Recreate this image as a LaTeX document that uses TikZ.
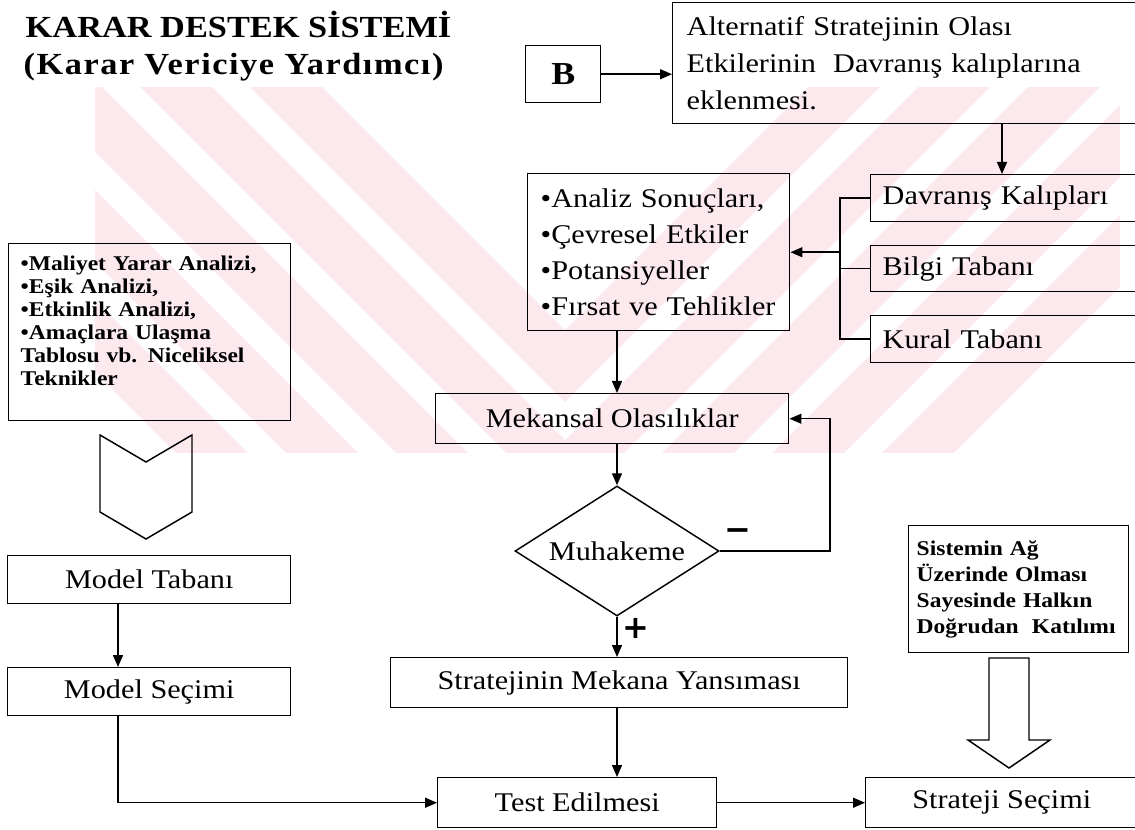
\documentclass[tikz,border=0pt]{standalone}
\usepackage{fontspec}
\setmainfont{Liberation Serif}[FakeStretch=1.12]
\newfontfamily\titlewide{Liberation Serif}[FakeStretch=1.12,LetterSpace=5]
\newfontfamily\signfont{DejaVu Sans}
\usetikzlibrary{shapes.geometric,arrows.meta,calc}
\definecolor{wmpink}{RGB}{252,233,237}

\begin{document}
\begin{tikzpicture}[x=0.75pt,y=-0.75pt,
  line width=1.1pt,
  >={Triangle[length=9pt,width=7.5pt]},
  cbox/.style={draw, inner sep=0pt, anchor=north west,
    font=\fontsize{20.25}{27}\selectfont},
  lbox/.style={draw, inner ysep=0pt, anchor=north west, align=left},
  txt/.style={font=\fontsize{20.25}{27}\selectfont},
  sign/.style={inner sep=0pt, font=\signfont\bfseries\fontsize{24}{24}\selectfont}
]
\useasboundingbox (0,0) rectangle (1135,830);
\clip (0,0) rectangle (1135,830);

% faint background stripes
\begin{scope}
  \clip (95,88) rectangle (1120,452);
  \foreach \c in {330,440,550,660,770} {
    \fill[wmpink] (-35,\c-600) -- (565,\c) -- (1165,\c-600) -- (1165,\c-528)
      -- (565,\c+72) -- (-35,\c-528) -- cycle;
  }
\end{scope}

% title
\node[anchor=base west, inner sep=0pt, font=\bfseries\fontsize{23}{27}\selectfont]
  (title) at (25,38) {KARAR DESTEK SİSTEMİ};
\node[anchor=base west, inner sep=0pt, font=\titlewide\bfseries\fontsize{23}{27}\selectfont]
  (subtitle) at (23,75) {(Karar Vericiye Yardımcı)};

% upper chain
\node[cbox, minimum width=56.25pt, minimum height=42.75pt,
  font=\bfseries\fontsize{24}{24}\selectfont] (bnode) at (525,45) {B};
\node[lbox, minimum width=348.75pt, minimum height=90.75pt, text width=327.75pt,
  inner xsep=10.5pt, font=\fontsize{20.25}{27.75}\selectfont] (alt) at (672,2)
  {Alternatif Stratejinin Olası\\Etkilerinin\hspace{0.3em} Davranış kalıplarına\\eklenmesi.};

\node[lbox, txt, minimum width=200.25pt, minimum height=35.25pt, text width=182.25pt,
  inner xsep=9pt] (davr) at (870,174) {Davranış Kalıpları};
\node[lbox, txt, minimum width=200.25pt, minimum height=34.5pt, text width=182.25pt,
  inner xsep=9pt] (bilgi) at (870,245) {Bilgi Tabanı};
\node[lbox, txt, minimum width=200.25pt, minimum height=35.25pt, text width=182.25pt,
  inner xsep=9pt] (kural) at (870,315) {Kural Tabanı};

\node[lbox, txt, minimum width=196.5pt, minimum height=117.75pt, text width=177pt,
  inner xsep=9.75pt] (analiz) at (527,173)
  {•Analiz Sonuçları,\\•Çevresel Etkiler\\•Potansiyeller\\•Fırsat ve Tehlikler};

% central column
\node[cbox, minimum width=264.75pt, minimum height=37.5pt] (mekan) at (435,393)
  {Mekansal Olasılıklar};
\node[draw, diamond, aspect=1.57, inner sep=0pt, minimum width=153pt,
  minimum height=97.5pt, txt] (muh) at (617,551) {Muhakeme};
\node[cbox, minimum width=342.75pt, minimum height=37.5pt] (strat) at (390,657)
  {Stratejinin Mekana Yansıması};
\node[cbox, minimum width=209.25pt, minimum height=37.5pt] (test) at (437,777)
  {Test Edilmesi};
\node[cbox, minimum width=204pt, minimum height=37.5pt] (secim) at (865,777)
  {Strateji Seçimi};

\node[sign] (minus) at (738,535) {−};
\node[sign] (plus) at (636,628) {+};

% left column
\node[lbox, minimum width=211.5pt, minimum height=132.75pt, text width=193.5pt,
  inner xsep=9pt, font=\bfseries\fontsize{15.75}{17.25}\selectfont] (maliyet) at (8,243)
  {•Maliyet Yarar Analizi,\\•Eşik Analizi,\\•Etkinlik Analizi,\\•Amaçlara Ulaşma\\Tablosu vb. Niceliksel\\Teknikler\\\mbox{}};
\draw (100,435) -- (146,462) -- (192,435) -- (192,512) -- (146,539) -- (100,512) -- cycle;
\node[cbox, minimum width=212.25pt, minimum height=36pt] (modtab) at (7,555)
  {Model Tabanı};
\node[cbox, minimum width=212.25pt, minimum height=36pt] (modsec) at (7,667)
  {Model Seçimi};

% participation box and its block arrow
\node[lbox, minimum width=165pt, minimum height=95.25pt, text width=153pt,
  inner xsep=6pt, font=\bfseries\fontsize{15.75}{19.5}\selectfont] (sistem) at (908,525)
  {Sistemin Ağ\\Üzerinde Olması\\Sayesinde Halkın\\Doğrudan\hspace{0.3em} Katılımı};
\draw (989,658) -- (989,740) -- (968,740) -- (1009,768) -- (1050,740)
  -- (1029,740) -- (1029,658) -- cycle;

% guide coordinates for vertical connectors
\coordinate (cx) at (617,0);
\coordinate (dx) at (1002,0);
\coordinate (bx) at (840,0);
\coordinate (lx) at (830,0);
\coordinate (mx) at (118,0);

% connectors
\draw[->] (bnode.east) -- (alt.west |- bnode.east);
\draw[->] (alt.south -| dx) -- (davr.north -| dx);
\draw (davr.west) -- (davr.west -| bx) -- (kural.west -| bx) -- (kural.west);
\draw (bilgi.west) -- (bilgi.west -| bx);
\draw[->] (analiz.east -| bx) -- (analiz.east);
\draw[->] (analiz.south -| cx) -- (mekan.north -| cx);
\draw[->] (mekan.south -| cx) -- (muh.north);
\draw[->] (muh.east) -- (muh.east -| lx) -- (lx |- mekan.east) -- (mekan.east);
\draw[->] (muh.south) -- (strat.north -| cx);
\draw[->] (strat.south -| cx) -- (test.north -| cx);
\draw[->] (test.east) -- (secim.west);
\draw[->] (modtab.south -| mx) -- (modsec.north -| mx);
\draw[->] (modsec.south -| mx) |- (test.west);
\end{tikzpicture}
\end{document}
